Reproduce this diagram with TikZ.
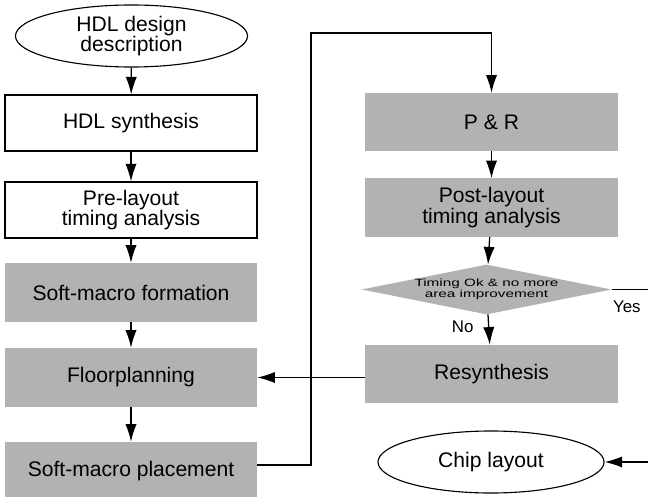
\documentclass[tikz,border=0pt]{standalone}
\usepackage{fontspec}
\setmainfont{Liberation Sans}
\usetikzlibrary{positioning,calc,shapes.geometric,arrows.meta}

\begin{document}
\begin{tikzpicture}[x=0.025cm,y=-0.025cm,
    every node/.style={font=\fontsize{15}{14.5}\selectfont,align=center},
    plain/.style={draw,line width=0.8pt,minimum width=6.3cm,minimum height=1.4cm,inner sep=0pt},
    shade/.style={fill=black!30,minimum width=6.3cm,minimum height=1.45cm,inner sep=0pt},
    oval/.style={ellipse,draw,line width=0.8pt,inner sep=0pt},
    flow/.style={line width=0.9pt,-{Latex[length=4.4mm,width=2.8mm]}},
    tag/.style={font=\fontsize{12}{12}\selectfont}]
    \useasboundingbox (0,0) rectangle (648,497);
    \clip (0,0) rectangle (648,497);
    % left column
    \node[oval,minimum width=5.8cm,minimum height=1.55cm] (desc) at (131.5,36) {HDL design\\description};
    \node[plain] (synth) at (131,123) {HDL synthesis};
    \node[plain] (prelay) at (131,210) {Pre-layout\\timing analysis};
    \node[shade,minimum height=1.475cm] (smform) at (131,292.5) {Soft-macro formation};
    \node[shade,minimum height=1.475cm] (floor) at (131,377.5) {Floorplanning};
    \node[shade] (smplace) at (131,471) {Soft-macro placement};
    % right column
    \node[shade] (pr) at (491.5,122) {P \& R};
    \node[shade] (post) at (491.5,207.5) {Post-layout\\timing analysis};
    \node[diamond,aspect=5,fill=black!30,inner sep=0pt,minimum width=6.2cm,minimum height=1.22cm] (check) at (486.5,289.5)
        {\fontsize{7.5}{7}\selectfont\scalebox{1.45}[1]{\begin{tabular}{@{}c@{}}Timing Ok \& no more\\area improvement\end{tabular}}};
    \node[shade] (resyn) at (491.5,374) {Resynthesis};
    \node[oval,minimum width=5.65cm,minimum height=1.55cm] (chip) at (491,462) {Chip layout};
    \coordinate (lo) at (311,465);
    \coordinate (hi) at (311,33);
    \coordinate (edge) at (662,290);

    \draw[flow] (desc) -- (synth);
    \draw[flow] (synth) -- (prelay);
    \draw[flow] (prelay) -- (smform);
    \draw[flow] (smform) -- (floor);
    \draw[flow] (floor) -- (smplace);
    \draw[flow] (smplace.east |- lo) -- (lo) -- (hi) -| (pr.north);
    \draw[flow] (pr) -- (post);
    \draw[flow] (post) -- (check);
    \draw[flow] (check) -- node[tag,left=7pt,pos=0.4] {No} (resyn);
    \draw[flow] (resyn.west |- floor.east) -- (floor.east);
    \draw[flow] (check.east) -- node[tag,below=4pt,pos=0.3] {Yes} (check.east -| edge) |- (chip.east);
\end{tikzpicture}
\end{document}
